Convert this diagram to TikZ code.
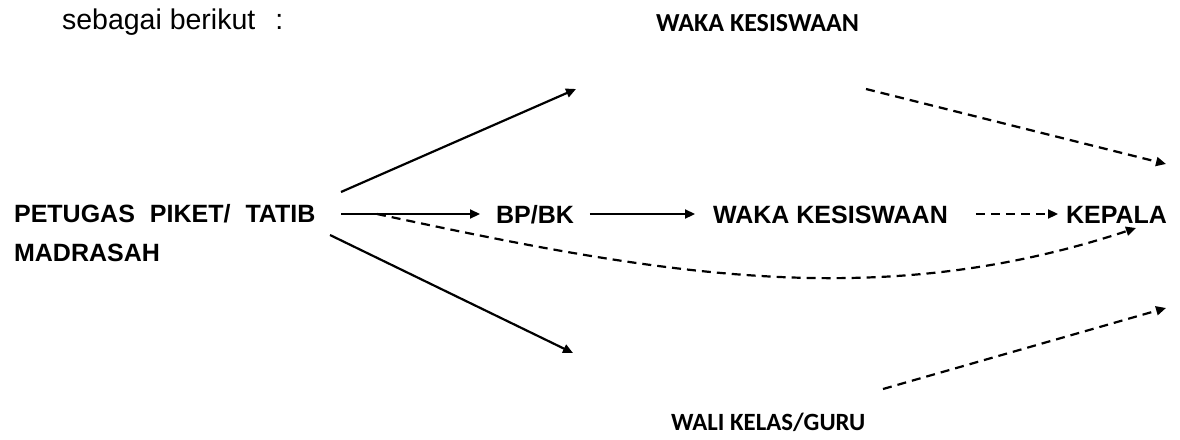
\documentclass[tikz,border=0pt]{standalone}
\usepackage{fontspec}
\setmainfont{Liberation Sans}
\newfontfamily\carlito{Carlito}
\usetikzlibrary{arrows.meta}

\begin{document}
\begin{tikzpicture}[x=1pt, y=-1pt, line width=2.2pt,
    >={Triangle[length=10pt, width=9pt]}]
    \tikzset{
      lbl/.style={inner sep=0pt, anchor=base west, text height=18pt, text depth=0pt,
        font=\bfseries\fontsize{25}{39}\selectfont},
      note/.style={inner sep=0pt, anchor=base west,
        font=\carlito\bfseries\fontsize{#1}{30}\selectfont},
      dsh/.style={dash pattern=on 9pt off 6pt},
    }
    \useasboundingbox (0,0) rectangle (1180,439);

    % texts
    \node[inner sep=0pt, anchor=base west, font=\fontsize{28.5}{32}\selectfont]
      (intro) at (61,29) {sebagai berikut\hspace{20pt}:};
    \node[note=26] (wakatop) at (655,31) {WAKA KESISWAAN};
    \node[note=24.8] (wali) at (670,430) {WALI KELAS/GURU};
    \node[inner sep=0pt, anchor=base west, align=left,
      font=\bfseries\fontsize{25}{39}\selectfont]
      (petugas) at (13,261) {\spaceskip=15pt\relax PETUGAS PIKET/ TATIB\\MADRASAH};
    \node[lbl] (bpbk) at (495,223) {BP/BK};
    \node[lbl] (waka) at (712,223) {WAKA KESISWAAN};
    \node[lbl] (kepala) at (1065,223) {KEPALA};

    % free ends
    \path
    foreach \name/\pos in {fan-n/{341,192}, fan-m/{341,214}, fan-s/{330,235},
      up/{576,89}, down/{573,353}, curve-s/{377,214}, curve-e/{1136,228},
      tr-s/{866,89}, tr-e/{1166,164}, br-s/{883,389}, br-e/{1166,308}} {
      (\pos) coordinate(\name)
    };

    \foreach \a/\b in {fan-n/up, fan-s/down} { \draw[->] (\a) -- (\b); }
    \draw[->, shorten >=15pt] (fan-m) -- (fan-m -| bpbk.west);
    \draw[->, shorten <=15pt, shorten >=17pt] (bpbk.east) -- (waka.west);
    \draw[->, dsh, shorten <=27pt, shorten >=7pt] (waka.east) -- (kepala.west);
    \draw[->, dsh] (curve-s) .. controls (657,274) and (876,314) .. (curve-e);
    \foreach \a/\b in {tr-s/tr-e, br-s/br-e} { \draw[->, dsh] (\a) -- (\b); }
  \end{tikzpicture}
\end{document}
